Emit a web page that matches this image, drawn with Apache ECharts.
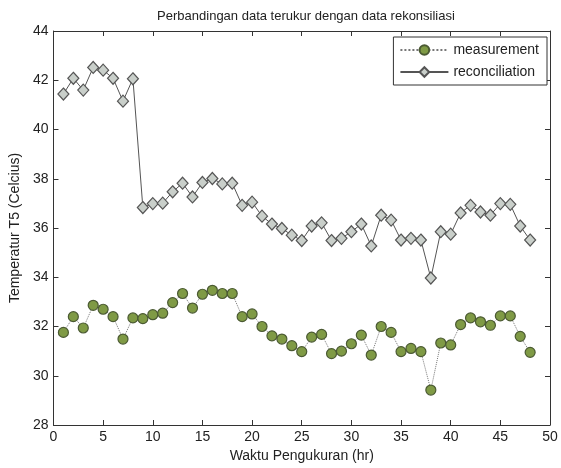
<!DOCTYPE html>
<html>
<head>
<meta charset="utf-8">
<script src="https://cdn.jsdelivr.net/npm/echarts@6/dist/echarts.min.js"></script>
<style>
html,body{margin:0;padding:0;background:#fff;}
#c{width:561px;height:468px;}
</style>
</head>
<body>
<div id="c"></div>
<script>
var hours = [1,2,3,4,5,6,7,8,9,10,11,12,13,14,15,16,17,18,19,20,21,22,23,24,25,26,27,28,29,30,31,32,33,34,35,36,37,38,39,40,41,42,43,44,45,46,47,48];
var measurement = [31.76,32.40,31.94,32.86,32.70,32.40,31.49,32.35,32.32,32.48,32.54,32.97,33.34,32.75,33.31,33.47,33.34,33.34,32.40,32.51,32.00,31.62,31.49,31.22,30.98,31.57,31.68,30.90,31.00,31.30,31.65,30.84,32.00,31.76,30.98,31.11,30.98,29.42,31.33,31.25,32.08,32.35,32.19,32.05,32.43,32.43,31.60,30.95];
var reconciliation = [41.44,42.08,41.60,42.52,42.41,42.08,41.15,42.06,36.83,36.99,37.01,37.47,37.82,37.26,37.85,38.01,37.79,37.82,36.92,37.05,36.48,36.16,35.98,35.71,35.49,36.08,36.21,35.49,35.58,35.85,36.16,35.27,36.52,36.32,35.51,35.58,35.51,33.97,35.85,35.75,36.61,36.92,36.65,36.52,36.99,36.96,36.08,35.51];
var xTicks = [0,5,10,15,20,25,30,35,40,45,50];
var yTicks = [28,30,32,34,36,38,40,42,44];
var titleText = 'Perbandingan data terukur dengan data rekonsiliasi';
var xName = 'Waktu Pengukuran (hr)';
var yName = 'Temperatur T5 (Celcius)';

function pairs(xs, ys){ return xs.map(function(x,i){ return [x, ys[i]]; }); }

var font = 'Liberation Sans, Arial, sans-serif';
var axisCommon = {
  axisLine:{show:true,onZero:false,lineStyle:{color:'#333',width:1}},
  axisTick:{show:true,inside:true,length:5,lineStyle:{color:'#333'}},
  splitLine:{show:false}
};
var chart = echarts.init(document.getElementById('c'));
chart.setOption({
  animation:false,
  backgroundColor:'#fff',
  title:{text:titleText,left:301,top:5,textAlign:'center',textStyle:{fontFamily:font,fontSize:13,fontWeight:'normal',color:'#222'}},
  grid:{left:52,right:11,top:31,bottom:41,containLabel:false},
  legend:{
    right:14,top:37,orient:'vertical',itemWidth:48,itemHeight:12,itemGap:8,
    backgroundColor:'#fff',borderColor:'#333',borderWidth:1,padding:[6,8,6,6],
    textStyle:{fontFamily:font,fontSize:14,color:'#222'},
    data:['measurement','reconciliation']
  },
  xAxis:[
    Object.assign({type:'value',min:xTicks[0],max:xTicks[xTicks.length-1],interval:5,position:'bottom',
      name:xName,nameLocation:'middle',nameGap:24,nameTextStyle:{fontFamily:font,fontSize:14,color:'#222'},
      axisLabel:{fontFamily:font,fontSize:14,color:'#222',margin:5}}, axisCommon),
    Object.assign({type:'value',min:xTicks[0],max:xTicks[xTicks.length-1],interval:5,position:'top',
      axisLabel:{show:false}}, axisCommon)
  ],
  yAxis:[
    Object.assign({type:'value',min:yTicks[0],max:yTicks[yTicks.length-1],interval:2,position:'left',
      name:yName,nameLocation:'middle',nameGap:30,nameTextStyle:{fontFamily:font,fontSize:14,color:'#222'},
      axisLabel:{fontFamily:font,fontSize:14,color:'#222',margin:5}}, axisCommon),
    Object.assign({type:'value',min:yTicks[0],max:yTicks[yTicks.length-1],interval:2,position:'right',
      axisLabel:{show:false}}, axisCommon)
  ],
  series:[
    {name:'measurement',type:'line',data:pairs(hours,measurement),
     symbol:'circle',symbolSize:10,
     lineStyle:{type:'dotted',color:'#777',width:1},
     itemStyle:{color:'#7f9a45',borderColor:'#4b5a33',borderWidth:1.2}},
    {name:'reconciliation',type:'line',data:pairs(hours,reconciliation),
     symbol:'diamond',symbolSize:[11,12],
     lineStyle:{type:'solid',color:'#555',width:1},
     itemStyle:{color:'#c9cfca',borderColor:'#555',borderWidth:1.2}}
  ]
});
</script>
</body>
</html>
